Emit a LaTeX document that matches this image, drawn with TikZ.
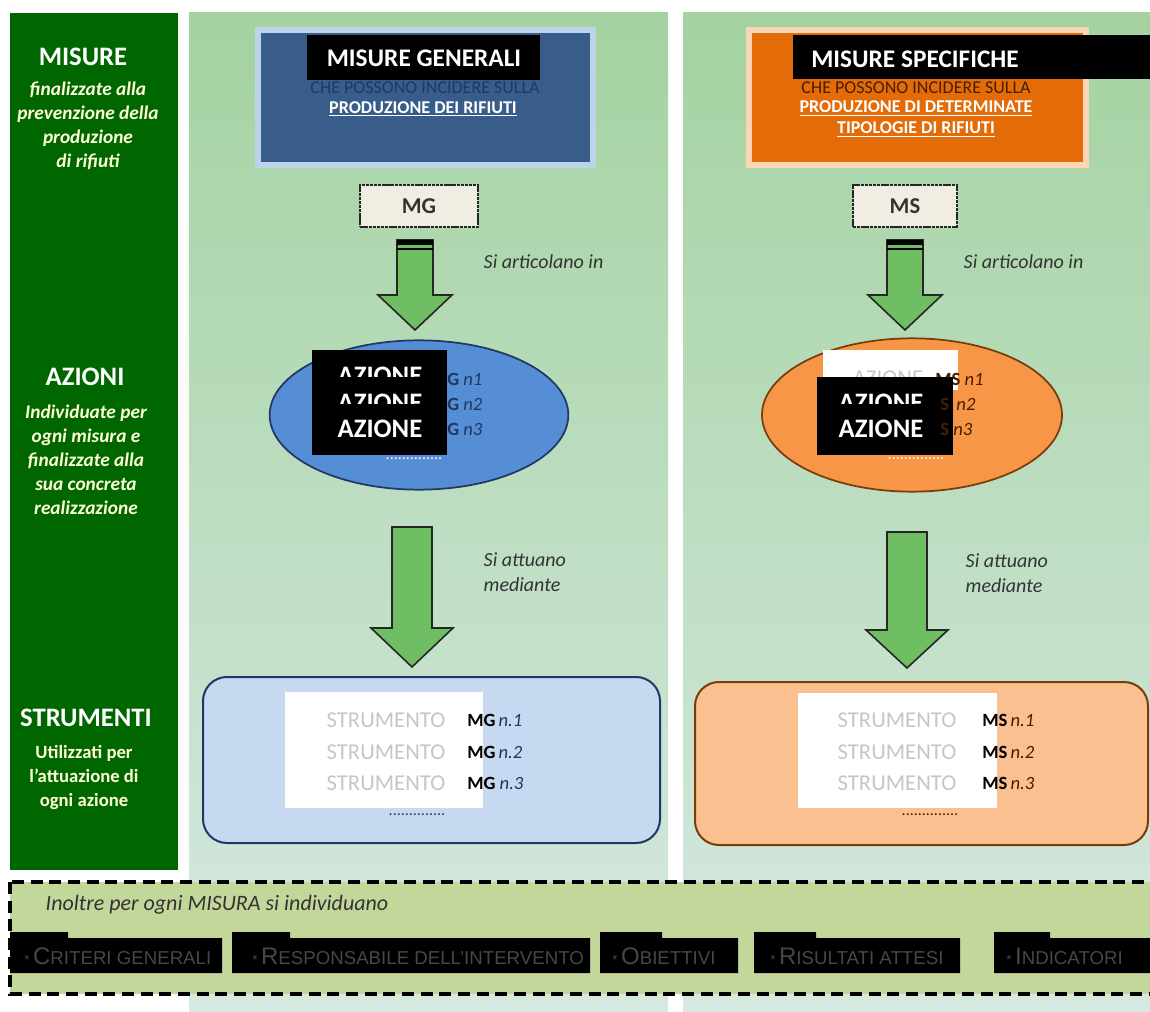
\documentclass[tikz,border=0pt]{standalone}
\usepackage{fontspec}
\setmainfont{Carlito}
\newfontfamily\arialfont{Liberation Sans}
\usetikzlibrary{shapes.geometric}

\definecolor{darkgreen}{RGB}{0,102,0}
\definecolor{coltop}{RGB}{164,210,160}
\definecolor{colbot}{RGB}{214,233,226}
\definecolor{mgblue}{RGB}{56,93,138}
\definecolor{mgborder}{RGB}{190,210,234}
\definecolor{msorange}{RGB}{227,108,9}
\definecolor{msborder}{RGB}{252,213,180}
\definecolor{navytext}{RGB}{31,56,100}
\definecolor{browntext}{RGB}{70,30,0}
\definecolor{cream}{RGB}{240,238,226}
\definecolor{arrowgreen}{RGB}{112,190,100}
\definecolor{ellblue}{RGB}{85,142,213}
\definecolor{ellorange}{RGB}{247,150,70}
\definecolor{brownline}{RGB}{120,60,10}
\definecolor{strblue}{RGB}{198,217,241}
\definecolor{strpeach}{RGB}{250,192,144}
\definecolor{olive}{RGB}{196,215,155}
\definecolor{paleyellow}{RGB}{255,255,215}

% centre x, top, head base, tip, shaft half width, head half width
\newcommand{\blockarrow}[6]{%
  \filldraw[bigarrow] (#1-#5,#2) -- (#1+#5,#2) -- (#1+#5,#3) -- (#1+#6,#3)
    -- (#1,#4) -- (#1-#6,#3) -- (#1-#5,#3) -- cycle;}
% left, right, end of the tab
\newcommand{\tabbox}[3]{%
  \fill[black] (#1,938) -- (#1,932) -- (#3,932) -- (#3,938) -- (#2,938)
    -- (#2,973) -- (#1,973) -- cycle;}
\newcommand{\fakesc}[2]{{\fontsize{18}{18}\selectfont #1}{\fontsize{14}{14}\selectfont #2}}

\begin{document}
\begin{tikzpicture}[x=0.75pt,y=-0.75pt,
  sidehead/.style={text=white,font=\bfseries\fontsize{20}{20}\selectfont},
  sidetext/.style={text=paleyellow,font=\bfseries\itshape\fontsize{14.5}{18}\selectfont,align=center},
  sideplain/.style={text=paleyellow,font=\bfseries\fontsize{14}{18}\selectfont,align=center},
  titlebar/.style={text=white,font=\bfseries\fontsize{19}{19}\selectfont},
  subcaps/.style={font=\fontsize{13.5}{15}\selectfont},
  ulink/.style={text=white,font=\bfseries\fontsize{13.5}{15.75}\selectfont,align=center},
  codebox/.style={draw=black!85,dash pattern=on 2.5pt off 0.6pt,line width=1.6pt,fill=cream,text=black!80,
    font=\bfseries\fontsize{17}{17}\selectfont,minimum height=32pt},
  bigarrow/.style={fill=arrowgreen,draw=black!85,line width=1.2pt,line join=miter},
  azline/.style={text=white,font=\bfseries\fontsize{20}{20}\selectfont},
  refline/.style={font=\fontsize{14}{14}\selectfont,anchor=west,inner sep=0pt},
  faint/.style={text=gray!45,font=\fontsize{17}{17}\selectfont},
  dots/.style={font=\fontsize{12}{12}\selectfont,inner sep=0pt},
  note/.style={text=black!80,font=\itshape\fontsize{15}{19}\selectfont,anchor=west,align=left},
  criterion/.style={text=black!72,font=\arialfont,anchor=west,inner sep=0pt}]
\useasboundingbox (0,0) rectangle (1150,1012);
\fill[white] (0,0) rectangle (1150,1012);

% background panels
\fill[darkgreen] (10,13) rectangle (178,870);
\shade[top color=coltop,bottom color=colbot] (189,13) rectangle (668,1012);
\shade[top color=coltop,bottom color=colbot] (683,13) rectangle (1150,1012);

% side column
\node[sidehead] (misure) at (83,57) {MISURE};
\node[sidetext] (misuretxt) at (88,126) {finalizzate alla\\prevenzione della\\produzione\\di rifiuti};
\node[sidehead] (azioni) at (85,377) {AZIONI};
\node[sidetext] (azionitxt) at (86,460) {Individuate per\\ogni misura e\\finalizzate alla\\sua concreta\\realizzazione};
\node[sidehead] (strumenti) at (86,718) {STRUMENTI};
\node[sideplain] (strumentitxt) at (84,778) {Utilizzati per\\l’attuazione di\\ogni azione};

% misure generali
\fill[mgborder] (255,27) rectangle (596,168);
\fill[mgblue] (261,33) rectangle (590,162);
\fill[black] (307,35) rectangle (540,80);
\node[titlebar] (mgtitle) at (424,58) {MISURE GENERALI};
\node[subcaps,text=navytext] (mgsub) at (425,88) {CHE POSSONO INCIDERE SULLA};
\node[ulink] (mglink) at (423,109) {\underline{PRODUZIONE DEI RIFIUTI}};

% misure specifiche
\fill[msborder] (746,27) rectangle (1089,168);
\fill[msorange] (752,33) rectangle (1083,162);
\fill[black] (793,35) rectangle (1150,79);
\node[titlebar] (mstitle) at (915,59) {MISURE SPECIFICHE};
\node[subcaps,text=browntext] (mssub) at (916,88) {CHE POSSONO INCIDERE SULLA};
\node[ulink] (mslink) at (916,119) {\underline{PRODUZIONE DI DETERMINATE}\\\underline{TIPOLOGIE DI RIFIUTI}};

% codes
\node[codebox,minimum width=88pt] (mg) at (419,206) {MG};
\node[codebox,minimum width=78pt] (ms) at (905,206) {MS};

% arrows
\blockarrow{415}{240}{295}{330}{18}{37}
\fill[black] (397,240) rectangle (433,245);
\draw[black,line width=1.2pt] (397,249) -- (433,249);
\blockarrow{905}{240}{295}{330}{18}{37}
\fill[black] (887,240) rectangle (923,245);
\draw[black,line width=1.2pt] (887,249) -- (923,249);
\blockarrow{412}{527}{628}{667}{20}{41}
\blockarrow{907}{532}{630}{668}{20}{41}

\node[note] (artmg) at (479,262) {Si articolano in};
\node[note] (artms) at (959,262) {Si articolano in};
\node[note] (attmg) at (479,572) {Si attuano\\mediante};
\node[note] (attms) at (961,573) {Si attuano\\mediante};

% azioni
\node[ellipse,fill=ellblue,draw=navytext,line width=1.3pt,minimum width=224pt,minimum height=112pt] (azmg) at (419,415) {};
\fill[black] (312,350) rectangle (447,455);
\begin{scope}
  \clip (312,350) rectangle (447,377);
  \node[azline] (azmg1) at (380,376) {AZIONE};
\end{scope}
\begin{scope}
  \clip (312,380) rectangle (447,404);
  \node[azline] (azmg2) at (380,403) {AZIONE};
\end{scope}
\node[azline] (azmg3) at (380,429) {AZIONE};
\node[refline,text=navytext] (mgn1) at (447,379) {\textbf{G} \textit{n1}};
\node[refline,text=navytext] (mgn2) at (447,404) {\textbf{G} \textit{n2}};
\node[refline,text=navytext] (mgn3) at (447,429) {\textbf{G} \textit{n3}};
\node[dots,text=white] (mgdots) at (414,459) {..............};

\node[ellipse,fill=ellorange,draw=brownline,line width=1.3pt,minimum width=225pt,minimum height=115pt] (azms) at (912,415) {};
\fill[white] (823,350) rectangle (958,390);
\begin{scope}
  \clip (823,350) rectangle (935,377);
  \node[faint] (azms1) at (888,378) {AZIONE};
\end{scope}
\node[refline,text=browntext] (msn1) at (935,379) {\textbf{MS} \textit{n1}};
\fill[black] (817,377) rectangle (953,455);
\begin{scope}
  \clip (817,380) rectangle (953,404);
  \node[azline] (azms2) at (881,403) {AZIONE};
\end{scope}
\node[azline] (azms3) at (881,429) {AZIONE};
\node[refline,text=browntext] (msn2) at (940,404) {\textbf{S}\, \textit{n2}};
\node[refline,text=browntext] (msn3) at (940,429) {\textbf{S} \textit{n3}};
\node[dots,text=white] (msdots) at (916,459) {..............};

% strumenti
\draw[fill=strblue,draw=navytext,line width=1.5pt,rounded corners=18pt] (203,677) rectangle (660,843);
\fill[white] (285,692) rectangle (483,808);
\node[faint] (stmg1) at (386,720) {STRUMENTO};
\node[faint] (stmg2) at (386,752) {STRUMENTO};
\node[faint] (stmg3) at (386,783) {STRUMENTO};
\node[refline,text=navytext] (mgs1) at (467,720) {\textbf{\color{black}MG}\,\textit{n.1}};
\node[refline,text=navytext] (mgs2) at (467,752) {\textbf{\color{black}MG}\,\textit{n.2}};
\node[refline,text=navytext] (mgs3) at (467,783) {\textbf{\color{black}MG} \textit{n.3}};
\node[dots,text=navytext] (stmgdots) at (417,815) {..............};

\draw[fill=strpeach,draw=brownline,line width=1.5pt,rounded corners=18pt] (695,682) rectangle (1148,845);
\fill[white] (798,693) rectangle (997,808);
\node[faint] (stms1) at (897,720) {STRUMENTO};
\node[faint] (stms2) at (897,752) {STRUMENTO};
\node[faint] (stms3) at (897,783) {STRUMENTO};
\node[refline,text=browntext] (mss1) at (982,720) {\textbf{\color{black}MS}\,\textit{n.1}};
\node[refline,text=browntext] (mss2) at (982,752) {\textbf{\color{black}MS}\,\textit{n.2}};
\node[refline,text=browntext] (mss3) at (982,783) {\textbf{\color{black}MS}\,\textit{n.3}};
\node[dots,text=browntext] (stmsdots) at (930,815) {..............};

% bottom band
\draw[fill=olive,line width=2.5pt,dash pattern=on 9pt off 5pt] (10,882) rectangle (1165,994);
\node[note,font=\itshape\fontsize{16.5}{19}\selectfont] (inoltre) at (41,905) {Inoltre per ogni \textit{MISURA} si individuano};
\tabbox{10}{222}{68}
\tabbox{232}{590}{290}
\tabbox{600}{738}{662}
\tabbox{754}{960}{816}
\tabbox{994}{1150}{1050}
\node[criterion] (crit1) at (24,956) {* \fakesc{C}{RITERI GENERALI}};
\node[criterion] (crit2) at (252,956) {* \fakesc{R}{ESPONSABILE DELL’INTERVENTO}};
\node[criterion] (crit3) at (612,956) {* \fakesc{O}{BIETTIVI}};
\node[criterion] (crit4) at (770,956) {* \fakesc{R}{ISULTATI ATTESI}};
\node[criterion] (crit5) at (1006,956) {* \fakesc{I}{NDICATORI}};
\end{tikzpicture}
\end{document}
